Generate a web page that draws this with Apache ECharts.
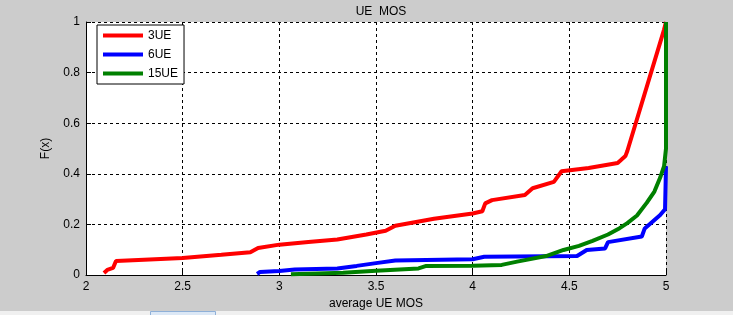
<!DOCTYPE html>
<html>
<head>
<meta charset="utf-8">
<script src="https://cdn.jsdelivr.net/npm/echarts@6/dist/echarts.min.js"></script>
<style>
html,body{margin:0;padding:0;background:#cccccc;}
#chart{width:733px;height:315px;}
</style>
</head>
<body>
<div id="chart"></div>
<script>
const seriesNames = ['3UE', '6UE', '15UE'];
const xTicks = [2, 2.5, 3, 3.5, 4, 4.5, 5];
const yTicks = [0, 0.2, 0.4, 0.6, 0.8, 1];

const xRed = [2.093, 2.11, 2.14, 2.155, 2.3, 2.5, 2.7, 2.85, 2.89, 3.0, 3.15, 3.3, 3.45, 3.55, 3.6, 3.8, 4.0, 4.05, 4.065, 4.1, 4.27, 4.31, 4.42, 4.46, 4.6, 4.75, 4.79, 4.8, 4.99, 5.0];
const fRed = [0.008, 0.02, 0.028, 0.055, 0.06, 0.067, 0.08, 0.09, 0.107, 0.12, 0.13, 0.14, 0.16, 0.175, 0.195, 0.222, 0.243, 0.252, 0.283, 0.296, 0.316, 0.343, 0.368, 0.41, 0.423, 0.443, 0.47, 0.49, 0.97, 1.0];

const xBlue = [2.885, 2.9, 3.0, 3.08, 3.3, 3.4, 3.5, 3.6, 4.0, 4.06, 4.54, 4.59, 4.685, 4.7, 4.875, 4.89, 4.97, 4.995, 5.0];
const fBlue = [0.004, 0.012, 0.016, 0.022, 0.026, 0.036, 0.047, 0.057, 0.062, 0.072, 0.075, 0.099, 0.105, 0.13, 0.152, 0.184, 0.237, 0.26, 0.43];

const xGreen = [3.06, 3.33, 3.5, 3.72, 3.76, 4.0, 4.15, 4.23, 4.38, 4.47, 4.55, 4.62, 4.7, 4.76, 4.8, 4.85, 4.9, 4.94, 4.97, 4.99, 5.0, 5.0];
const fGreen = [0.003, 0.009, 0.017, 0.026, 0.036, 0.037, 0.04, 0.053, 0.075, 0.099, 0.115, 0.135, 0.16, 0.185, 0.205, 0.235, 0.285, 0.33, 0.385, 0.43, 0.5, 1.0];

const colors = ['#ff0000', '#0000ff', '#008000'];
const zip = (xs, ys) => xs.map((x, i) => [x, ys[i]]);
const allData = [zip(xRed, fRed), zip(xBlue, fBlue), zip(xGreen, fGreen)];

const font = 'Liberation Sans, Arial, sans-serif';
const chart = echarts.init(document.getElementById('chart'));
chart.setOption({
  backgroundColor: '#cccccc',
  animation: false,
  title: {
    text: 'UE  MOS', left: 376, top: 1, textAlign: 'center',
    textStyle: {fontFamily: font, fontSize: 12, fontWeight: 'normal', color: '#000'}
  },
  legend: {
    orient: 'vertical', left: 97, top: 25,
    data: seriesNames.map(n => ({name: n, icon: 'rect'})),
    itemWidth: 40, itemHeight: 4, itemGap: 4,
    padding: [3, 6, 3, 6],
    backgroundColor: '#ffffff', borderColor: '#000', borderWidth: 1, borderRadius: 0,
    textStyle: {fontFamily: font, fontSize: 12, color: '#000', lineHeight: 15}
  },
  grid: {left: 86, right: 67, top: 22, bottom: 40, show: true, backgroundColor: '#ffffff', borderWidth: 0},
  xAxis: {
    type: 'value', min: xTicks[0], max: xTicks[xTicks.length - 1], interval: 0.5,
    name: 'average UE MOS', nameLocation: 'middle', nameGap: 22,
    nameTextStyle: {fontFamily: font, fontSize: 12, color: '#000'},
    axisLine: {show: true, lineStyle: {color: '#000', width: 1}},
    axisTick: {show: true, inside: true, length: 5, lineStyle: {color: '#000'}},
    axisLabel: {fontFamily: font, fontSize: 12, color: '#000', margin: 6},
    splitLine: {show: true, lineStyle: {color: '#000', type: [3, 3], width: 1}}
  },
  yAxis: {
    type: 'value', min: yTicks[0], max: yTicks[yTicks.length - 1], interval: 0.2,
    name: 'F(x)', nameLocation: 'middle', nameGap: 34, nameRotate: 90,
    nameTextStyle: {fontFamily: font, fontSize: 12, color: '#000'},
    axisLine: {show: true, lineStyle: {color: '#000', width: 1}},
    axisTick: {show: true, inside: true, length: 5, lineStyle: {color: '#000'}},
    axisLabel: {fontFamily: font, fontSize: 12, color: '#000', margin: 6},
    splitLine: {show: true, lineStyle: {color: '#000', type: [3, 3], width: 1}}
  },
  series: seriesNames.map((n, i) => ({
    name: n, type: 'line', data: allData[i], showSymbol: false, symbol: 'none',
    color: colors[i], lineStyle: {color: colors[i], width: 4}, clip: true
  })),
  graphic: [
    {type: 'rect', left: 0, top: 311, shape: {width: 733, height: 4}, style: {fill: '#f0f0f0'}, silent: true},
    {type: 'rect', left: 150, top: 311, shape: {width: 65, height: 4}, style: {fill: '#dce8f6', stroke: '#8fb0d8', lineWidth: 1}, silent: true}
  ]
});
</script>
</body>
</html>
